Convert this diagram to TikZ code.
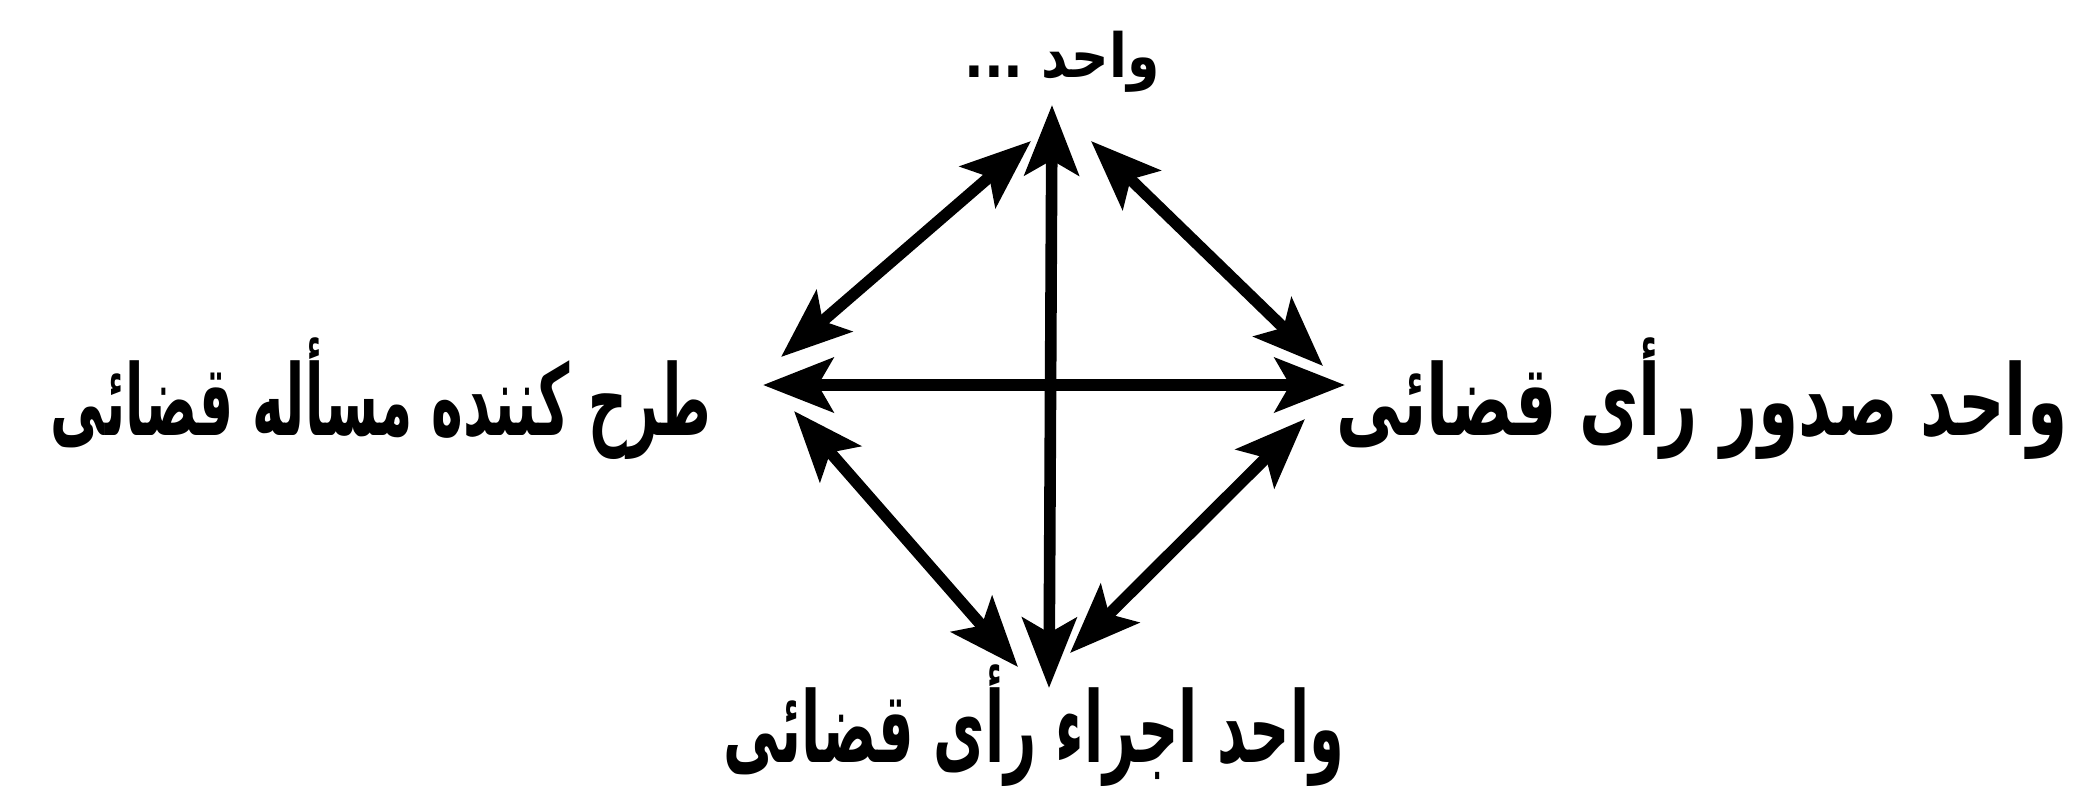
\documentclass[tikz,border=0pt]{standalone}
\usepackage{fontspec}
\usepackage{graphicx}
\TeXXeTstate=1
\newfontfamily\arabicfont[Script=Arabic]{DejaVu Sans}
\usetikzlibrary{arrows.meta}
\newcommand{\arlbl}[3][1]{\resizebox{#2}{#1\height}{#3}}
\begin{document}
\begin{tikzpicture}[x=0.01cm,y=-0.01cm,
  lbl/.style={inner sep=0pt, font=\arabicfont\bfseries\fontsize{28}{34}\selectfont},
  dbl/.style={line width=3.3pt, {Stealth[length=7mm,width=5.4mm,inset=1.5mm]}-{Stealth[length=7mm,width=5.4mm,inset=1.5mm]}}]
\useasboundingbox (0,0) rectangle (2082,790);
% labels
\node[lbl, anchor=base] (top) at (1062,77) {\arlbl[0.62]{1.95cm}{\beginR واحد ...\endR}};
\node[lbl, anchor=base east] (left) at (712,435) {\arlbl{6.6cm}{\beginR طرح کننده مسأله قضائی\endR}};
\node[lbl, anchor=base west] (right) at (1336,435) {\arlbl{7.3cm}{\beginR واحد صدور رأی قضائی\endR}};
\node[lbl, anchor=base] (bottom) at (1034,762) {\arlbl{6.2cm}{\beginR واحد اجراء رأی قضائی\endR}};
% arrow ends
\coordinate (vT) at (1052,105);
\coordinate (vB) at (1049,688);
\coordinate (hL) at (763,385);
\coordinate (hR) at (1345,385);
\coordinate (tlA) at (1031,141);
\coordinate (tlB) at (781,357);
\coordinate (trA) at (1091,141);
\coordinate (trB) at (1323,366);
\coordinate (blA) at (794,411);
\coordinate (blB) at (1018,667);
\coordinate (brA) at (1305,419);
\coordinate (brB) at (1070,653);
% arrows
\draw[dbl] (vB) -- (vT);
\draw[dbl] (hL) -- (hR);
\draw[dbl] (tlA) -- (tlB);
\draw[dbl] (trA) -- (trB);
\draw[dbl] (blA) -- (blB);
\draw[dbl] (brA) -- (brB);
\end{tikzpicture}
\end{document}
